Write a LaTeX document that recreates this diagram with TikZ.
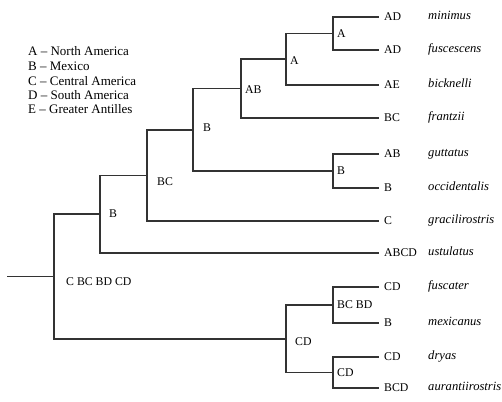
\documentclass[tikz,border=0pt]{standalone}
\usepackage{fontspec}
\setmainfont{Liberation Serif}
\tikzset{
	branch/.style={draw=black!80, line width=1.1pt},
	area/.style={anchor=west, inner sep=0pt, xshift=5pt, font=\fontsize{11.8}{13}\selectfont},
	species/.style={anchor=base west, inner sep=0pt, yshift=1pt, font=\fontsize{12.6}{14}\selectfont\itshape},
	anc/.style={anchor=west, inner sep=0pt, xshift=4pt, font=\fontsize{11.8}{13}\selectfont},
	legend/.style={anchor=base west, inner sep=0pt, font=\fontsize{13}{14}\selectfont}
}

\begin{document}
\begin{tikzpicture}[x=1pt, y=-1pt]
	\useasboundingbox (0,0) rectangle (502,401);
	\coordinate (xs) at (428,0);
	\coordinate (tMin) at (379,17);
	\coordinate (tFus) at (379,50);
	\coordinate (tBic) at (379,85);
	\coordinate (tFra) at (379,118);
	\coordinate (tGut) at (379,154);
	\coordinate (tOcc) at (379,188);
	\coordinate (tGra) at (379,221);
	\coordinate (tUst) at (379,253);
	\coordinate (tFsc) at (379,287);
	\coordinate (tMex) at (379,323);
	\coordinate (tDry) at (379,357);
	\coordinate (tAur) at (379,388);
	\coordinate (nMinFus) at (333,33.5);
	\coordinate (nA) at (286,59);
	\coordinate (nAB) at (241,88.5);
	\coordinate (nGutOcc) at (333,171);
	\coordinate (nB) at (193,130);
	\coordinate (nBC) at (147,175.5);
	\coordinate (nBB) at (100,214);
	\coordinate (nFscMex) at (333,305);
	\coordinate (nDryAur) at (333,372.5);
	\coordinate (nCD) at (286,339);
	\coordinate (root) at (54,276.5);
	\coordinate (stem) at (7,276.5);

	\draw [branch]	(nMinFus) |- (tMin)
					(nMinFus) |- (tFus)
					(nA) |- (nMinFus)
					(nA) |- (tBic)
					(nAB) |- (nA)
					(nAB) |- (tFra)
					(nGutOcc) |- (tGut)
					(nGutOcc) |- (tOcc)
					(nB) |- (nAB)
					(nB) |- (nGutOcc)
					(nBC) |- (nB)
					(nBC) |- (tGra)
					(nBB) |- (nBC)
					(nBB) |- (tUst)
					(nFscMex) |- (tFsc)
					(nFscMex) |- (tMex)
					(nDryAur) |- (tDry)
					(nDryAur) |- (tAur)
					(nCD) |- (nFscMex)
					(nCD) |- (nDryAur)
					(root) |- (nBB)
					(root) |- (nCD)
					(stem) -- (root);

	\node [anc] (lMinFus) at (nMinFus) {A};
	\node [anc, yshift=-2pt] (lA) at (nA) {A};
	\node [anc, yshift=-1pt] (lAB) at (nAB) {AB};
	\node [anc, xshift=6pt, yshift=2pt] (lB) at (nB) {B};
	\node [anc, xshift=6pt, yshift=-6pt] (lBC) at (nBC) {BC};
	\node [anc, xshift=5pt] (lBB) at (nBB) {B};
	\node [anc] (lGutOcc) at (nGutOcc) {B};
	\node [anc] (lFscMex) at (nFscMex) {BC BD};
	\node [anc] (lDryAur) at (nDryAur) {CD};
	\node [anc, xshift=5pt, yshift=-3pt] (lCD) at (nCD) {CD};
	\node [anc, xshift=8pt, yshift=-5pt] (lRoot) at (root) {C BC BD CD};

	\node [area] (aMin) at (tMin) {AD};
	\node [area] (aFus) at (tFus) {AD};
	\node [area] (aBic) at (tBic) {AE};
	\node [area] (aFra) at (tFra) {BC};
	\node [area] (aGut) at (tGut) {AB};
	\node [area] (aOcc) at (tOcc) {B};
	\node [area] (aGra) at (tGra) {C};
	\node [area] (aUst) at (tUst) {ABCD};
	\node [area] (aFsc) at (tFsc) {CD};
	\node [area] (aMex) at (tMex) {B};
	\node [area] (aDry) at (tDry) {CD};
	\node [area] (aAur) at (tAur) {BCD};

	\node [species] (sMin) at (aMin.base -| xs) {minimus};
	\node [species] (sFus) at (aFus.base -| xs) {fuscescens};
	\node [species] (sBic) at (aBic.base -| xs) {bicknelli};
	\node [species] (sFra) at (aFra.base -| xs) {frantzii};
	\node [species] (sGut) at (aGut.base -| xs) {guttatus};
	\node [species] (sOcc) at (aOcc.base -| xs) {occidentalis};
	\node [species] (sGra) at (aGra.base -| xs) {gracilirostris};
	\node [species] (sUst) at (aUst.base -| xs) {ustulatus};
	\node [species] (sFsc) at (aFsc.base -| xs) {fuscater};
	\node [species] (sMex) at (aMex.base -| xs) {mexicanus};
	\node [species] (sDry) at (aDry.base -| xs) {dryas};
	\node [species] (sAur) at (aAur.base -| xs) {aurantiirostris};

	\node [legend] (keyA) at (28,56) {A -- North America};
	\node [legend] (keyB) at (28,70.5) {B -- Mexico};
	\node [legend] (keyC) at (28,85) {C -- Central America};
	\node [legend] (keyD) at (28,99.5) {D -- South America};
	\node [legend] (keyE) at (28,113.5) {E -- Greater Antilles};
\end{tikzpicture}
\end{document}
